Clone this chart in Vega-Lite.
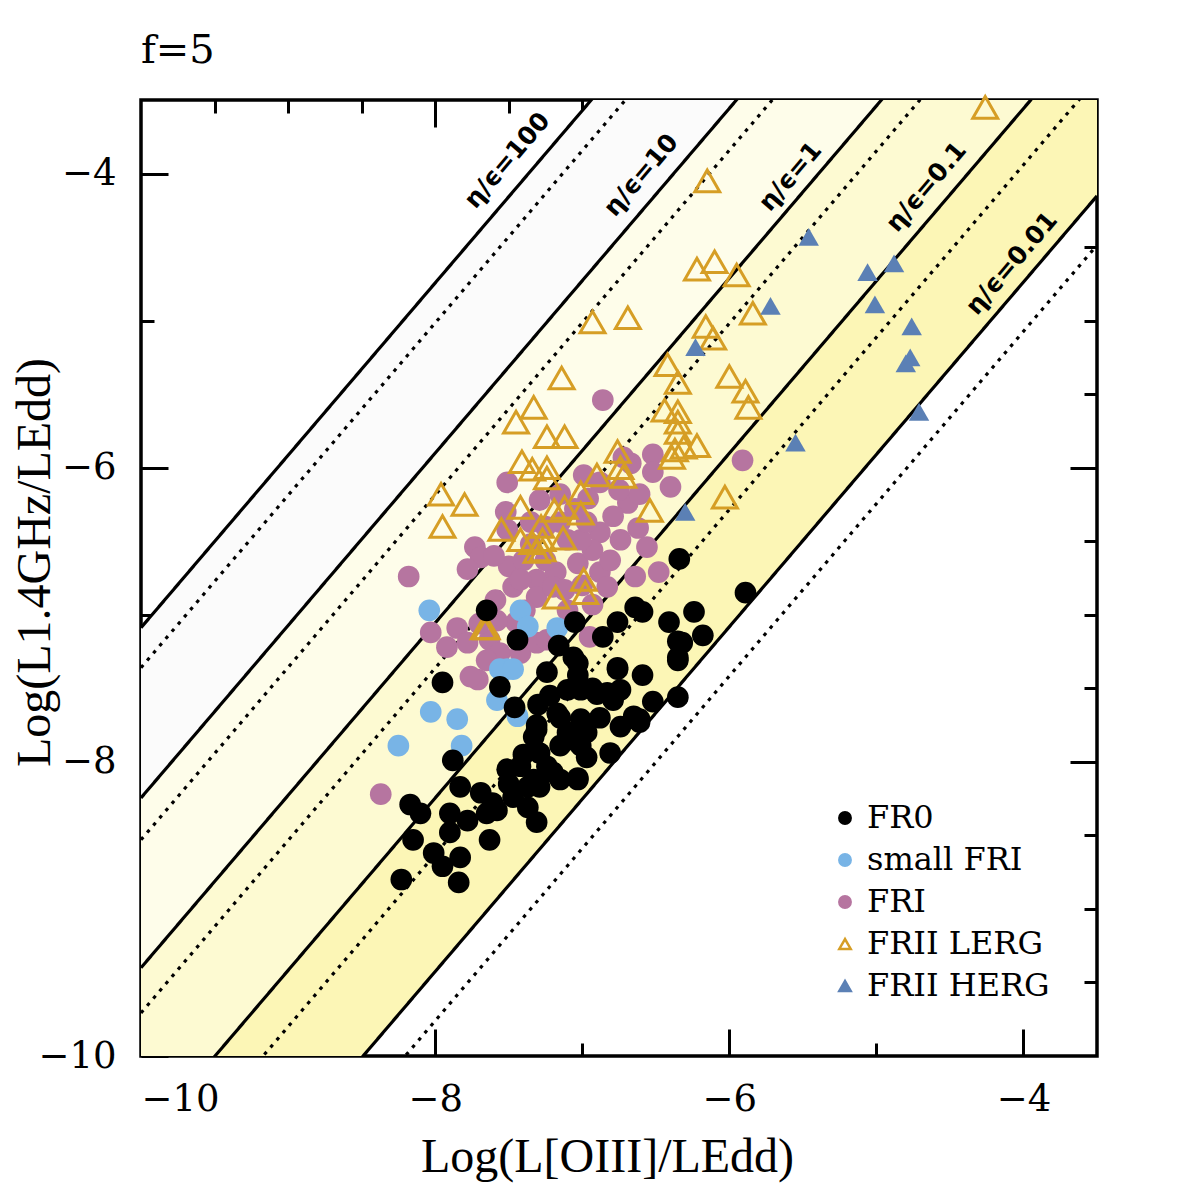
{
  "$schema": "https://vega.github.io/schema/vega-lite/v6.json",
  "width": 956,
  "height": 956,
  "autosize": {"type": "none"},
  "padding": {"left": 141, "top": 100, "right": 98, "bottom": 139},
  "background": "white",
  "config": {
    "view": {"stroke": "black", "strokeWidth": 3.5},
    "axis": {"grid": false, "domain": false, "tickColor": "black", "tickWidth": 3, "labelColor": "black", "titleColor": "black"}
  },
  "title": {"text": "f=5", "anchor": "start", "frame": "group", "font": "DejaVu Serif", "fontSize": 40, "fontWeight": "normal", "color": "black", "offset": 20},
  "datasets": {
    "bands": [
      {"band": "B1", "x": -10, "y": -7.088, "y2": -8.245}, {"band": "B1", "x": -3.5, "y": 0.53, "y2": -0.627},
      {"band": "B2", "x": -10, "y": -8.245, "y2": -9.4}, {"band": "B2", "x": -3.5, "y": -0.627, "y2": -1.782},
      {"band": "B3", "x": -10, "y": -9.4, "y2": -10.59}, {"band": "B3", "x": -3.5, "y": -1.782, "y2": -2.972},
      {"band": "B4", "x": -10, "y": -10.59, "y2": -11.77}, {"band": "B4", "x": -3.5, "y": -2.972, "y2": -4.152}
    ],
    "lines": [
      {"line": "S1", "style": "solid", "x": -10, "y": -7.088}, {"line": "S1", "style": "solid", "x": -3.5, "y": 0.53},
      {"line": "S2", "style": "solid", "x": -10, "y": -8.245}, {"line": "S2", "style": "solid", "x": -3.5, "y": -0.627},
      {"line": "S3", "style": "solid", "x": -10, "y": -9.4}, {"line": "S3", "style": "solid", "x": -3.5, "y": -1.782},
      {"line": "S4", "style": "solid", "x": -10, "y": -10.59}, {"line": "S4", "style": "solid", "x": -3.5, "y": -2.972},
      {"line": "S5", "style": "solid", "x": -10, "y": -11.77}, {"line": "S5", "style": "solid", "x": -3.5, "y": -4.152},
      {"line": "D1", "style": "dotted", "x": -10, "y": -7.36}, {"line": "D1", "style": "dotted", "x": -3.5, "y": 0.258},
      {"line": "D2", "style": "dotted", "x": -10, "y": -8.53}, {"line": "D2", "style": "dotted", "x": -3.5, "y": -0.912},
      {"line": "D3", "style": "dotted", "x": -10, "y": -9.707}, {"line": "D3", "style": "dotted", "x": -3.5, "y": -2.089},
      {"line": "D4", "style": "dotted", "x": -10, "y": -10.973}, {"line": "D4", "style": "dotted", "x": -3.5, "y": -3.355},
      {"line": "D5", "style": "dotted", "x": -10, "y": -12.105}, {"line": "D5", "style": "dotted", "x": -3.5, "y": -4.487}
    ],
    "labels": [
      {"label": "η/ϵ=100", "x": -7.51, "y": -3.91},
      {"label": "η/ϵ=10", "x": -6.6, "y": -4.01},
      {"label": "η/ϵ=1", "x": -5.585, "y": -4.02},
      {"label": "η/ϵ=0.1", "x": -4.66, "y": -4.09},
      {"label": "η/ϵ=0.01", "x": -4.08, "y": -4.61}
    ],
    "points": [
      {"type": "FRI", "x": -6.86, "y": -5.54}, {"type": "FRI", "x": -5.91, "y": -5.95}, {"type": "FRI", "x": -6.52, "y": -5.91}, {"type": "FRI", "x": -6.52, "y": -6.03},
      {"type": "FRI", "x": -6.4, "y": -6.13}, {"type": "FRI", "x": -7.51, "y": -6.1}, {"type": "FRI", "x": -6.99, "y": -6.05}, {"type": "FRI", "x": -6.88, "y": -6.1},
      {"type": "FRI", "x": -6.67, "y": -5.97}, {"type": "FRI", "x": -6.69, "y": -6.24}, {"type": "FRI", "x": -6.79, "y": -6.33}, {"type": "FRI", "x": -6.88, "y": -6.44},
      {"type": "FRI", "x": -6.62, "y": -6.41}, {"type": "FRI", "x": -6.56, "y": -6.54}, {"type": "FRI", "x": -7.52, "y": -6.3}, {"type": "FRI", "x": -7.51, "y": -6.42},
      {"type": "FRI", "x": -7.73, "y": -6.54}, {"type": "FRI", "x": -7.69, "y": -6.61}, {"type": "FRI", "x": -7.78, "y": -6.69}, {"type": "FRI", "x": -7.5, "y": -6.67},
      {"type": "FRI", "x": -7.4, "y": -6.63}, {"type": "FRI", "x": -7.47, "y": -6.81}, {"type": "FRI", "x": -7.31, "y": -6.76}, {"type": "FRI", "x": -7.18, "y": -6.71},
      {"type": "FRI", "x": -7.03, "y": -6.65}, {"type": "FRI", "x": -6.93, "y": -6.56}, {"type": "FRI", "x": -6.88, "y": -6.71}, {"type": "FRI", "x": -6.83, "y": -6.81},
      {"type": "FRI", "x": -6.64, "y": -6.74}, {"type": "FRI", "x": -6.48, "y": -6.71}, {"type": "FRI", "x": -7.31, "y": -6.88}, {"type": "FRI", "x": -7.2, "y": -6.81},
      {"type": "FRI", "x": -7.39, "y": -6.97}, {"type": "FRI", "x": -7.1, "y": -6.97}, {"type": "FRI", "x": -8.18, "y": -6.74}, {"type": "FRI", "x": -8.03, "y": -7.12},
      {"type": "FRI", "x": -7.85, "y": -7.09}, {"type": "FRI", "x": -7.92, "y": -7.22}, {"type": "FRI", "x": -7.78, "y": -7.19}, {"type": "FRI", "x": -7.59, "y": -6.9},
      {"type": "FRI", "x": -7.63, "y": -7.17}, {"type": "FRI", "x": -7.56, "y": -7.26}, {"type": "FRI", "x": -7.42, "y": -7.26}, {"type": "FRI", "x": -7.31, "y": -7.19},
      {"type": "FRI", "x": -7.24, "y": -7.17}, {"type": "FRI", "x": -6.95, "y": -7.15}, {"type": "FRI", "x": -7.71, "y": -7.44}, {"type": "FRI", "x": -7.65, "y": -7.31},
      {"type": "FRI", "x": -7.15, "y": -6.37}, {"type": "FRI", "x": -7.1, "y": -6.49}, {"type": "FRI", "x": -7.01, "y": -6.49}, {"type": "FRI", "x": -6.97, "y": -6.37},
      {"type": "FRI", "x": -7.35, "y": -6.37}, {"type": "FRI", "x": -7.76, "y": -7.42}, {"type": "FRI", "x": -8.37, "y": -8.22}, {"type": "FRI", "x": -6.72, "y": -5.93},
      {"type": "FRI", "x": -7.42, "y": -6.76}, {"type": "FRI", "x": -7.25, "y": -6.63}, {"type": "FRI", "x": -7.12, "y": -6.83}, {"type": "FRI", "x": -6.81, "y": -6.63},
      {"type": "FRI", "x": -6.74, "y": -6.49}, {"type": "FRI", "x": -7.29, "y": -6.22}, {"type": "FRI", "x": -7.15, "y": -6.18}, {"type": "FRI", "x": -6.61, "y": -6.18},
      {"type": "FRI", "x": -7.7, "y": -7.06}, {"type": "FRI", "x": -7.45, "y": -7.05}, {"type": "FRI", "x": -6.93, "y": -6.93}, {"type": "FRI", "x": -7.05, "y": -6.28},
      {"type": "FRI", "x": -7.35, "y": -6.52}, {"type": "FRI", "x": -7.6, "y": -6.6}, {"type": "FRI", "x": -6.75, "y": -6.15}, {"type": "FRI", "x": -7.0, "y": -6.8},
      {"type": "FRI", "x": -7.25, "y": -6.4}, {"type": "FRI", "x": -6.96, "y": -6.21}, {"type": "FRI", "x": -7.58, "y": -7.04},
      {"type": "FRII LERG", "x": -4.26, "y": -3.55}, {"type": "FRII LERG", "x": -6.15, "y": -4.05}, {"type": "FRII LERG", "x": -6.22, "y": -4.65}, {"type": "FRII LERG", "x": -6.1, "y": -4.6},
      {"type": "FRII LERG", "x": -5.95, "y": -4.69}, {"type": "FRII LERG", "x": -6.93, "y": -5.01}, {"type": "FRII LERG", "x": -6.69, "y": -4.98}, {"type": "FRII LERG", "x": -5.84, "y": -4.95},
      {"type": "FRII LERG", "x": -6.16, "y": -5.04}, {"type": "FRII LERG", "x": -6.11, "y": -5.12}, {"type": "FRII LERG", "x": -6.42, "y": -5.3}, {"type": "FRII LERG", "x": -6.35, "y": -5.42},
      {"type": "FRII LERG", "x": -6.0, "y": -5.38}, {"type": "FRII LERG", "x": -5.89, "y": -5.48}, {"type": "FRII LERG", "x": -5.87, "y": -5.59}, {"type": "FRII LERG", "x": -7.14, "y": -5.39},
      {"type": "FRII LERG", "x": -7.33, "y": -5.59}, {"type": "FRII LERG", "x": -7.45, "y": -5.69}, {"type": "FRII LERG", "x": -7.24, "y": -5.79}, {"type": "FRII LERG", "x": -7.12, "y": -5.79},
      {"type": "FRII LERG", "x": -6.44, "y": -5.61}, {"type": "FRII LERG", "x": -6.35, "y": -5.62}, {"type": "FRII LERG", "x": -6.35, "y": -5.69}, {"type": "FRII LERG", "x": -6.35, "y": -5.76},
      {"type": "FRII LERG", "x": -6.31, "y": -5.86}, {"type": "FRII LERG", "x": -6.22, "y": -5.85}, {"type": "FRII LERG", "x": -6.76, "y": -5.89}, {"type": "FRII LERG", "x": -6.39, "y": -5.93},
      {"type": "FRII LERG", "x": -7.41, "y": -5.96}, {"type": "FRII LERG", "x": -7.34, "y": -6.01}, {"type": "FRII LERG", "x": -7.24, "y": -6.0}, {"type": "FRII LERG", "x": -7.24, "y": -6.07},
      {"type": "FRII LERG", "x": -6.9, "y": -6.05}, {"type": "FRII LERG", "x": -6.74, "y": -6.0}, {"type": "FRII LERG", "x": -6.72, "y": -6.06}, {"type": "FRII LERG", "x": -7.96, "y": -6.18},
      {"type": "FRII LERG", "x": -7.8, "y": -6.25}, {"type": "FRII LERG", "x": -7.95, "y": -6.4}, {"type": "FRII LERG", "x": -7.42, "y": -6.27}, {"type": "FRII LERG", "x": -7.01, "y": -6.17},
      {"type": "FRII LERG", "x": -7.19, "y": -6.29}, {"type": "FRII LERG", "x": -7.12, "y": -6.27}, {"type": "FRII LERG", "x": -7.01, "y": -6.31}, {"type": "FRII LERG", "x": -6.54, "y": -6.29},
      {"type": "FRII LERG", "x": -7.55, "y": -6.42}, {"type": "FRII LERG", "x": -7.42, "y": -6.49}, {"type": "FRII LERG", "x": -7.28, "y": -6.4}, {"type": "FRII LERG", "x": -7.34, "y": -6.51},
      {"type": "FRII LERG", "x": -7.27, "y": -6.49}, {"type": "FRII LERG", "x": -7.13, "y": -6.48}, {"type": "FRII LERG", "x": -7.31, "y": -6.57}, {"type": "FRII LERG", "x": -7.27, "y": -6.56},
      {"type": "FRII LERG", "x": -6.99, "y": -6.76}, {"type": "FRII LERG", "x": -6.98, "y": -6.85}, {"type": "FRII LERG", "x": -7.18, "y": -6.88}, {"type": "FRII LERG", "x": -7.67, "y": -7.09},
      {"type": "FRII LERG", "x": -7.65, "y": -7.09}, {"type": "FRII LERG", "x": -6.03, "y": -6.2}, {"type": "FRII LERG", "x": -6.37, "y": -5.88},
      {"type": "small FRI", "x": -8.04, "y": -6.97}, {"type": "small FRI", "x": -8.03, "y": -7.66}, {"type": "small FRI", "x": -8.25, "y": -7.89}, {"type": "small FRI", "x": -7.85, "y": -7.71},
      {"type": "small FRI", "x": -7.82, "y": -7.89}, {"type": "small FRI", "x": -7.51, "y": -7.37}, {"type": "small FRI", "x": -7.58, "y": -7.58}, {"type": "small FRI", "x": -7.44, "y": -7.69},
      {"type": "small FRI", "x": -7.42, "y": -6.97}, {"type": "small FRI", "x": -7.37, "y": -7.08}, {"type": "small FRI", "x": -7.17, "y": -7.09}, {"type": "small FRI", "x": -7.56, "y": -7.37},
      {"type": "small FRI", "x": -7.47, "y": -7.37},
      {"type": "FR0", "x": -7.95, "y": -7.46}, {"type": "FR0", "x": -7.56, "y": -7.49}, {"type": "FR0", "x": -7.24, "y": -7.39}, {"type": "FR0", "x": -7.46, "y": -7.63},
      {"type": "FR0", "x": -7.3, "y": -7.61}, {"type": "FR0", "x": -7.31, "y": -7.75}, {"type": "FR0", "x": -7.33, "y": -7.83}, {"type": "FR0", "x": -7.15, "y": -7.7},
      {"type": "FR0", "x": -7.1, "y": -7.8}, {"type": "FR0", "x": -7.03, "y": -7.33}, {"type": "FR0", "x": -7.03, "y": -7.41}, {"type": "FR0", "x": -7.01, "y": -7.51},
      {"type": "FR0", "x": -6.9, "y": -7.54}, {"type": "FR0", "x": -6.79, "y": -7.58}, {"type": "FR0", "x": -6.76, "y": -7.37}, {"type": "FR0", "x": -6.74, "y": -7.51},
      {"type": "FR0", "x": -6.59, "y": -7.41}, {"type": "FR0", "x": -6.52, "y": -7.59}, {"type": "FR0", "x": -6.35, "y": -7.56}, {"type": "FR0", "x": -6.35, "y": -7.31},
      {"type": "FR0", "x": -6.32, "y": -7.19}, {"type": "FR0", "x": -6.61, "y": -7.73}, {"type": "FR0", "x": -6.74, "y": -7.76}, {"type": "FR0", "x": -6.81, "y": -7.94},
      {"type": "FR0", "x": -6.97, "y": -7.97}, {"type": "FR0", "x": -7.01, "y": -7.89}, {"type": "FR0", "x": -7.15, "y": -7.89}, {"type": "FR0", "x": -7.29, "y": -7.94},
      {"type": "FR0", "x": -7.24, "y": -8.03}, {"type": "FR0", "x": -7.42, "y": -8.03}, {"type": "FR0", "x": -7.51, "y": -8.05}, {"type": "FR0", "x": -7.33, "y": -8.12},
      {"type": "FR0", "x": -7.29, "y": -8.17}, {"type": "FR0", "x": -7.15, "y": -8.12}, {"type": "FR0", "x": -7.03, "y": -8.12}, {"type": "FR0", "x": -7.88, "y": -7.99},
      {"type": "FR0", "x": -7.83, "y": -8.17}, {"type": "FR0", "x": -7.69, "y": -8.21}, {"type": "FR0", "x": -7.61, "y": -8.28}, {"type": "FR0", "x": -7.65, "y": -8.35},
      {"type": "FR0", "x": -7.58, "y": -8.33}, {"type": "FR0", "x": -7.47, "y": -8.24}, {"type": "FR0", "x": -7.37, "y": -8.31}, {"type": "FR0", "x": -7.31, "y": -8.41},
      {"type": "FR0", "x": -7.9, "y": -8.35}, {"type": "FR0", "x": -7.9, "y": -8.48}, {"type": "FR0", "x": -7.63, "y": -8.53}, {"type": "FR0", "x": -8.15, "y": -8.53},
      {"type": "FR0", "x": -8.17, "y": -8.29}, {"type": "FR0", "x": -8.1, "y": -8.35}, {"type": "FR0", "x": -8.01, "y": -8.62}, {"type": "FR0", "x": -7.83, "y": -8.65},
      {"type": "FR0", "x": -7.95, "y": -8.71}, {"type": "FR0", "x": -7.84, "y": -8.82}, {"type": "FR0", "x": -8.23, "y": -8.8}, {"type": "FR0", "x": -6.34, "y": -6.62},
      {"type": "FR0", "x": -5.89, "y": -6.85}, {"type": "FR0", "x": -7.65, "y": -6.97}, {"type": "FR0", "x": -7.05, "y": -7.05}, {"type": "FR0", "x": -7.44, "y": -7.17},
      {"type": "FR0", "x": -7.16, "y": -7.21}, {"type": "FR0", "x": -6.86, "y": -7.15}, {"type": "FR0", "x": -6.76, "y": -7.05}, {"type": "FR0", "x": -6.64, "y": -6.95},
      {"type": "FR0", "x": -6.59, "y": -6.98}, {"type": "FR0", "x": -6.41, "y": -7.05}, {"type": "FR0", "x": -6.24, "y": -6.98}, {"type": "FR0", "x": -6.18, "y": -7.14},
      {"type": "FR0", "x": -6.35, "y": -7.18}, {"type": "FR0", "x": -6.35, "y": -7.29}, {"type": "FR0", "x": -7.06, "y": -7.29}, {"type": "FR0", "x": -6.76, "y": -7.36},
      {"type": "FR0", "x": -6.93, "y": -7.5}, {"type": "FR0", "x": -6.83, "y": -7.53}, {"type": "FR0", "x": -7.1, "y": -7.51}, {"type": "FR0", "x": -7.17, "y": -7.67},
      {"type": "FR0", "x": -7.01, "y": -7.71}, {"type": "FR0", "x": -7.31, "y": -7.78}, {"type": "FR0", "x": -7.1, "y": -7.85}, {"type": "FR0", "x": -6.97, "y": -7.8},
      {"type": "FR0", "x": -6.65, "y": -7.69}, {"type": "FR0", "x": -6.61, "y": -7.71}, {"type": "FR0", "x": -7.2, "y": -8.07}, {"type": "FR0", "x": -7.37, "y": -8.17},
      {"type": "FR0", "x": -7.03, "y": -8.11}, {"type": "FR0", "x": -7.4, "y": -7.95}, {"type": "FR0", "x": -7.22, "y": -7.55}, {"type": "FR0", "x": -6.88, "y": -7.7},
      {"type": "FR0", "x": -7.5, "y": -8.15}, {"type": "FR0", "x": -7.78, "y": -8.4},
      {"type": "FRII HERG", "x": -5.46, "y": -4.43}, {"type": "FRII HERG", "x": -5.06, "y": -4.67}, {"type": "FRII HERG", "x": -4.88, "y": -4.61}, {"type": "FRII HERG", "x": -5.01, "y": -4.89},
      {"type": "FRII HERG", "x": -5.72, "y": -4.9}, {"type": "FRII HERG", "x": -6.23, "y": -5.18}, {"type": "FRII HERG", "x": -4.76, "y": -5.04}, {"type": "FRII HERG", "x": -4.77, "y": -5.25},
      {"type": "FRII HERG", "x": -4.8, "y": -5.29}, {"type": "FRII HERG", "x": -4.71, "y": -5.62}, {"type": "FRII HERG", "x": -5.55, "y": -5.83}, {"type": "FRII HERG", "x": -6.3, "y": -6.3}
    ]
  },
  "layer": [
    {
      "data": {"name": "bands"},
      "mark": {"type": "area", "clip": true, "opacity": 1},
      "encoding": {
        "x": {"field": "x", "type": "quantitative", "scale": {"domain": [-10, -3.5], "nice": false, "zero": false},
          "axis": {"orient": "bottom", "values": [-10, -9.5, -9, -8.5, -8, -7.5, -7, -6.5, -6, -5.5, -5, -4.5, -4], "format": "d",
            "tickSize": {"condition": {"test": "datum.value % 2 === 0", "value": -27}, "value": -13},
            "labelExpr": "datum.value % 2 === 0 ? datum.label : ''",
            "labelFont": "DejaVu Serif", "labelFontSize": 37, "labelPadding": 52,
            "title": "Log(L[OIII]/LEdd)", "titleFont": "Liberation Serif", "titleFontSize": 48, "titleFontWeight": "normal",
            "titleX": 466, "titleY": 101, "titleBaseline": "middle", "titleAlign": "center"}},
        "y": {"field": "y", "type": "quantitative", "stack": null, "scale": {"domain": [-10, -3.5], "nice": false, "zero": false},
          "axis": {"orient": "left", "values": [-10, -9.5, -9, -8.5, -8, -7.5, -7, -6.5, -6, -5.5, -5, -4.5, -4], "format": "d",
            "tickSize": {"condition": {"test": "datum.value % 2 === 0", "value": -27}, "value": -13},
            "labelExpr": "datum.value % 2 === 0 ? datum.label : ''",
            "labelFont": "DejaVu Serif", "labelFontSize": 37, "labelPadding": 52,
            "title": "Log(L1.4GHz/LEdd)", "titleFont": "Liberation Serif", "titleFontSize": 48, "titleFontWeight": "normal",
            "titleX": -106, "titleY": 462, "titleBaseline": "middle", "titleAlign": "center", "titleAngle": -90}},
        "y2": {"field": "y2"},
        "color": {"field": "band", "type": "nominal", "legend": null,
          "scale": {"domain": ["B1", "B2", "B3", "B4"], "range": ["#fbfbfb", "#fefdea", "#fdfad2", "#fcf6b6"]}}
      }
    },
    {
      "data": {"name": "lines"},
      "mark": {"type": "line", "clip": true, "color": "black", "strokeWidth": 3.2},
      "encoding": {
        "x": {"field": "x", "type": "quantitative",
          "axis": {"orient": "top", "values": [-9.5, -9, -8.5, -8, -7.5, -7, -6.5, -6, -5.5, -5, -4.5, -4],
            "tickSize": {"condition": {"test": "datum.value % 2 === 0", "value": -27}, "value": -13},
            "labels": false, "title": null}},
        "y": {"field": "y", "type": "quantitative",
          "axis": {"orient": "right", "values": [-9.5, -9, -8.5, -8, -7.5, -7, -6.5, -6, -5.5, -5, -4.5, -4],
            "tickSize": {"condition": {"test": "datum.value % 2 === 0", "value": -27}, "value": -13},
            "labels": false, "title": null}},
        "detail": {"field": "line"},
        "strokeDash": {"field": "style", "type": "nominal", "legend": null,
          "scale": {"domain": ["solid", "dotted"], "range": [[1, 0], [3.5, 6]]}}
      }
    },
    {
      "data": {"name": "points"},
      "mark": {"type": "point", "opacity": 1},
      "encoding": {
        "x": {"field": "x", "type": "quantitative", "axis": null},
        "y": {"field": "y", "type": "quantitative", "axis": null},
        "shape": {"field": "type", "type": "nominal",
          "scale": {"domain": ["FR0", "small FRI", "FRI", "FRII LERG", "FRII HERG"], "range": ["circle", "circle", "circle", "triangle-up", "triangle-up"]},
          "legend": {"title": null, "orient": "none", "legendX": 688, "legendY": 702, "labelFont": "DejaVu Serif", "labelFontSize": 32, "labelLimit": 500, "rowPadding": 10, "labelOffset": 6, "symbolSize": 130, "symbolStrokeWidth": 2.5,
            "encode": {"labels": {"update": {"fill": {"signal": "scale('stroke', datum.value)"}, "fontWeight": {"signal": "datum.value === 'FR0' ? 'bold' : 'normal'"}}},
                       "symbols": {"update": {"size": {"signal": "datum.value === 'FRII LERG' || datum.value === 'FRII HERG' ? 340 : 130"}}}}}},
        "stroke": {"field": "type", "type": "nominal",
          "scale": {"domain": ["FR0", "small FRI", "FRI", "FRII LERG", "FRII HERG"], "range": ["#000000", "#78b4e6", "#b675a0", "#d69e25", "#5b80b5"]},
          "legend": {"title": null, "orient": "none", "legendX": 688, "legendY": 702, "labelFont": "DejaVu Serif", "labelFontSize": 32, "labelLimit": 500, "rowPadding": 10, "labelOffset": 6, "symbolSize": 130, "symbolStrokeWidth": 2.5,
            "encode": {"labels": {"update": {"fill": {"signal": "scale('stroke', datum.value)"}, "fontWeight": {"signal": "datum.value === 'FR0' ? 'bold' : 'normal'"}}},
                       "symbols": {"update": {"size": {"signal": "datum.value === 'FRII LERG' || datum.value === 'FRII HERG' ? 340 : 130"}}}}}},
        "fill": {"field": "type", "type": "nominal",
          "scale": {"domain": ["FR0", "small FRI", "FRI", "FRII LERG", "FRII HERG"], "range": ["#000000", "#78b4e6", "#b675a0", "transparent", "#5b80b5"]},
          "legend": {"title": null, "orient": "none", "legendX": 688, "legendY": 702, "labelFont": "DejaVu Serif", "labelFontSize": 32, "labelLimit": 500, "rowPadding": 10, "labelOffset": 6, "symbolSize": 130, "symbolStrokeWidth": 2.5,
            "encode": {"labels": {"update": {"fill": {"signal": "scale('stroke', datum.value)"}, "fontWeight": {"signal": "datum.value === 'FR0' ? 'bold' : 'normal'"}}},
                       "symbols": {"update": {"size": {"signal": "datum.value === 'FRII LERG' || datum.value === 'FRII HERG' ? 340 : 130"}}}}}},
        "strokeWidth": {"condition": {"test": "datum.type === 'FRII LERG'", "value": 3}, "value": 0},
        "size": {"condition": [{"test": "datum.type === 'FRII LERG'", "value": 620}, {"test": "datum.type === 'FRII HERG'", "value": 420}], "value": 470}
      }
    },
    {
      "data": {"name": "labels"},
      "mark": {"type": "text", "angle": 310.5, "font": "DejaVu Sans", "fontSize": 25, "fontWeight": "bold", "color": "black", "align": "center", "baseline": "middle"},
      "encoding": {
        "x": {"field": "x", "type": "quantitative", "axis": null},
        "y": {"field": "y", "type": "quantitative", "axis": null},
        "text": {"field": "label"}
      }
    }
  ],
  "resolve": {"axis": {"x": "independent", "y": "independent"}}
}
